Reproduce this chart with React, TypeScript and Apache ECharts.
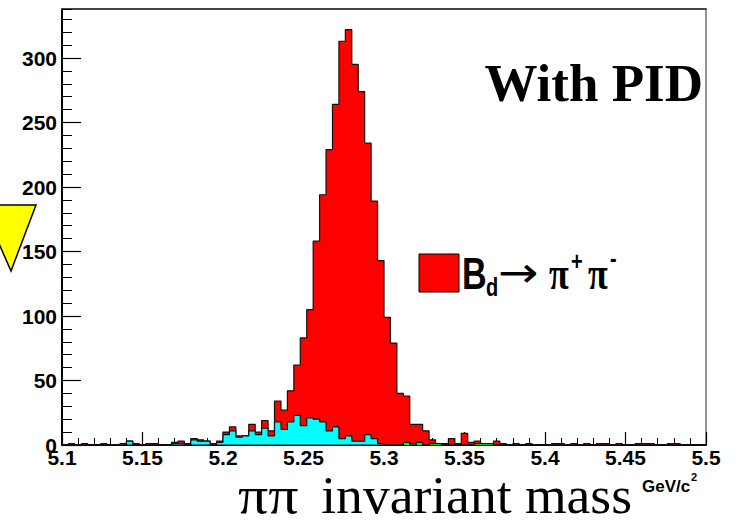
import React, { useEffect, useRef } from 'react';
import * as echarts from 'echarts';

// Histogram binning: 100 bins from 5.1 to 5.5 GeV/c^2
const X_MIN = 5.1;
const X_MAX = 5.5;
const BIN_WIDTH = 0.004;
const Y_MAX = 338;
const X_TICK_LABELS = ['5.1', '5.15', '5.2', '5.25', '5.3', '5.35', '5.4', '5.45', '5.5'];

// Total (red, B_d -> pi+ pi-) counts per bin
const redCounts = [
  0, 1, 0, 1, 0, 0, 1, 0, 0, 1,
  3, 1, 0, 1, 1, 0, 0, 2, 3, 1,
  5, 4, 3, 1, 3, 10, 14, 7, 7, 16,
  10, 19, 11, 34, 27, 42, 62, 83, 105, 158,
  194, 229, 264, 313, 322, 295, 274, 234, 189, 143,
  99, 79, 40, 38, 16, 16, 11, 4, 1, 1,
  5, 1, 9, 2, 3, 1, 1, 3, 1, 0,
  1, 0, 1, 0, 0, 0, 1, 1, 0, 1,
  0, 1, 0, 1, 1, 0, 1, 0, 0, 1,
  1, 1, 0, 0, 1, 1, 0, 0, 0, 0,
];

// Background (cyan) counts per bin
const cyanCounts = [
  0, 0, 0, 0, 0, 0, 0, 0, 0, 0,
  3, 0, 0, 0, 0, 0, 0, 1, 1, 0,
  4, 3, 3, 0, 2, 8, 11, 6, 7, 11,
  8, 13, 7, 18, 12, 18, 23, 15, 21, 20,
  18, 11, 14, 5, 7, 3, 3, 8, 5, 1,
  0, 0, 0, 0, 1, 0, 0, 0, 0, 0,
  0, 0, 0, 0, 0, 0, 0, 0, 0, 0,
  0, 0, 0, 0, 0, 0, 0, 0, 0, 0,
  0, 0, 0, 0, 0, 0, 0, 0, 0, 0,
  0, 0, 0, 0, 0, 0, 0, 0, 0, 0,
];

// Other background (green) counts per bin
const greenCounts = [
  0, 0, 0, 0, 0, 0, 0, 0, 0, 0,
  0, 0, 0, 0, 0, 0, 0, 0, 0, 0,
  0, 0, 0, 0, 0, 0, 0, 0, 0, 0,
  0, 0, 0, 0, 0, 0, 0, 0, 0, 0,
  0, 0, 0, 0, 0, 0, 0, 0, 0, 0,
  0, 0, 0, 2, 0, 2, 0, 1, 1, 0,
  0, 0, 0, 0, 1, 1, 1, 0, 0, 0,
  0, 0, 0, 0, 0, 0, 0, 0, 0, 0,
  0, 0, 0, 0, 0, 0, 0, 0, 0, 0,
  0, 0, 0, 0, 0, 0, 0, 0, 0, 0,
];

function toSteps(counts: number[]) {
  const pts: number[][] = counts.map((c, i) => [X_MIN + i * BIN_WIDTH, c]);
  pts.push([X_MAX, counts[counts.length - 1]]);
  return pts;
}

const SANS = '"Liberation Sans", Arial, Helvetica, sans-serif';
const SERIF = '"Liberation Serif", "Times New Roman", serif';

function histSeries(name: string, counts: number[], fill: string, z: number) {
  return {
    name,
    type: 'line',
    step: 'end',
    data: toSteps(counts),
    symbol: 'none',
    lineStyle: { color: '#111', width: 1.2 },
    areaStyle: { color: fill, opacity: 1 },
    z,
  };
}

export default function App() {
  const ref = useRef<HTMLDivElement>(null);
  useEffect(() => {
    if (!ref.current) return;
    const chart = echarts.init(ref.current, null, { renderer: 'svg' });
    const tickLabel = {
      fontSize: 21,
      fontWeight: 'bold',
      fontFamily: SANS,
      color: '#000',
    };
    chart.setOption({
      animation: false,
      backgroundColor: '#fff',
      grid: {
        left: 62,
        right: 32,
        top: 9,
        bottom: 80,
        show: true,
        borderColor: '#332222',
        borderWidth: 1,
        backgroundColor: 'transparent',
      },
      xAxis: [
        {
          type: 'value',
          min: X_MIN,
          max: X_MAX,
          interval: 0.05,
          axisLine: { show: true, onZero: false, lineStyle: { color: '#000', width: 2 } },
          axisTick: { show: true, inside: true, length: 13, lineStyle: { color: '#000', width: 1.2 } },
          minorTick: { show: true, splitNumber: 5, length: 7, lineStyle: { color: '#000', width: 1 } },
          axisLabel: {
            ...tickLabel,
            margin: 2,
            formatter: (v: number) => X_TICK_LABELS[Math.round((v - X_MIN) / 0.05)] ?? '',
          },
          splitLine: { show: false },
        },
        {
          type: 'value',
          position: 'top',
          min: X_MIN,
          max: X_MAX,
          axisLine: { show: true, onZero: false, lineStyle: { color: '#444', width: 2 } },
          axisTick: { show: false },
          axisLabel: { show: false },
          splitLine: { show: false },
        },
      ],
      yAxis: [
        {
          type: 'value',
          min: 0,
          max: Y_MAX,
          interval: 50,
          axisLine: { show: true, onZero: false, lineStyle: { color: '#000', width: 2 } },
          axisTick: { show: true, inside: true, length: 19, lineStyle: { color: '#000', width: 1.2 } },
          axisLabel: { ...tickLabel, margin: 5, showMaxLabel: false },
          splitLine: { show: false },
        },
        {
          type: 'value',
          position: 'left',
          min: 0,
          max: Y_MAX,
          interval: 10,
          axisLine: { show: false },
          axisTick: { show: true, inside: true, length: 10, lineStyle: { color: '#000', width: 1 } },
          axisLabel: { show: false },
          splitLine: { show: false },
        },
      ],
      series: [
        histSeries('total', redCounts, '#ff0000', 2),
        histSeries('background', cyanCounts, '#00ffff', 3),
        histSeries('other', greenCounts, '#00ff00', 4),
      ],
      graphic: [
        {
          type: 'polygon',
          shape: { points: [[-18, 205], [36, 205], [11, 271]] },
          style: { fill: '#ffff00', stroke: '#000', lineWidth: 1.5 },
          z: 100,
        },
        {
          type: 'text',
          x: 703,
          y: 83,
          style: {
            text: 'With PID',
            fontSize: 53,
            fontWeight: 'bold',
            fontFamily: SERIF,
            fill: '#000',
            align: 'right',
            verticalAlign: 'middle',
          },
          z: 100,
        },
        {
          type: 'text',
          x: 238,
          y: 495,
          scaleX: 1.15,
          style: {
            text: 'ππ',
            fontSize: 52,
            fontFamily: SERIF,
            fill: '#000',
            align: 'left',
            verticalAlign: 'middle',
          },
          z: 100,
        },
        {
          type: 'text',
          x: 632,
          y: 495,
          scaleX: 1.03,
          style: {
            text: 'invariant mass',
            fontSize: 52,
            fontFamily: SERIF,
            fill: '#000',
            align: 'right',
            verticalAlign: 'middle',
          },
          z: 100,
        },
        {
          type: 'text',
          x: 642,
          y: 486,
          style: {
            text: 'GeV/c',
            fontSize: 17,
            fontWeight: 'bold',
            fontFamily: SANS,
            fill: '#000',
            align: 'left',
            verticalAlign: 'middle',
          },
          z: 100,
        },
        {
          type: 'text',
          x: 691,
          y: 477,
          style: {
            text: '2',
            fontSize: 11,
            fontWeight: 'bold',
            fontFamily: SANS,
            fill: '#000',
            align: 'left',
            verticalAlign: 'middle',
          },
          z: 100,
        },
        {
          type: 'rect',
          shape: { x: 419, y: 254, width: 40, height: 38 },
          style: { fill: '#ff0000', stroke: '#000', lineWidth: 1 },
          z: 100,
        },
        {
          type: 'group',
          x: 462,
          y: 289,
          scaleY: 1.3,
          z: 100,
          children: [
            { type: 'text', x: 0, y: -11.8, style: { text: 'B', fontSize: 34, fontWeight: 'bold', fontFamily: SANS, fill: '#000', verticalAlign: 'middle' } },
            { type: 'text', x: 24, y: -1.5, style: { text: 'd', fontSize: 20, fontWeight: 'bold', fontFamily: SANS, fill: '#000', verticalAlign: 'middle' } },
            { type: 'text', x: 87, y: -12, style: { text: 'π', fontSize: 36, fontWeight: 'bold', fontFamily: SERIF, fill: '#000', verticalAlign: 'middle' } },
            { type: 'text', x: 109, y: -21.5, style: { text: '+', fontSize: 20, fontWeight: 'bold', fontFamily: SANS, fill: '#000', verticalAlign: 'middle' } },
            { type: 'text', x: 126, y: -12, style: { text: 'π', fontSize: 36, fontWeight: 'bold', fontFamily: SERIF, fill: '#000', verticalAlign: 'middle' } },
            { type: 'text', x: 148, y: -24, style: { text: '-', fontSize: 20, fontWeight: 'bold', fontFamily: SANS, fill: '#000', verticalAlign: 'middle' } },
          ],
        },
        {
          type: 'text',
          x: 498,
          y: 273,
          scaleX: 1.15,
          z: 100,
          style: { text: '→', fontSize: 42, fontFamily: '"DejaVu Sans", sans-serif', fill: '#000', verticalAlign: 'middle' },
        },
      ],
    });
    return () => chart.dispose();
  }, []);
  return (
    <div
      ref={ref}
      style={{ position: 'fixed', left: 0, top: 0, width: 738, height: 525 }}
    />
  );
}
